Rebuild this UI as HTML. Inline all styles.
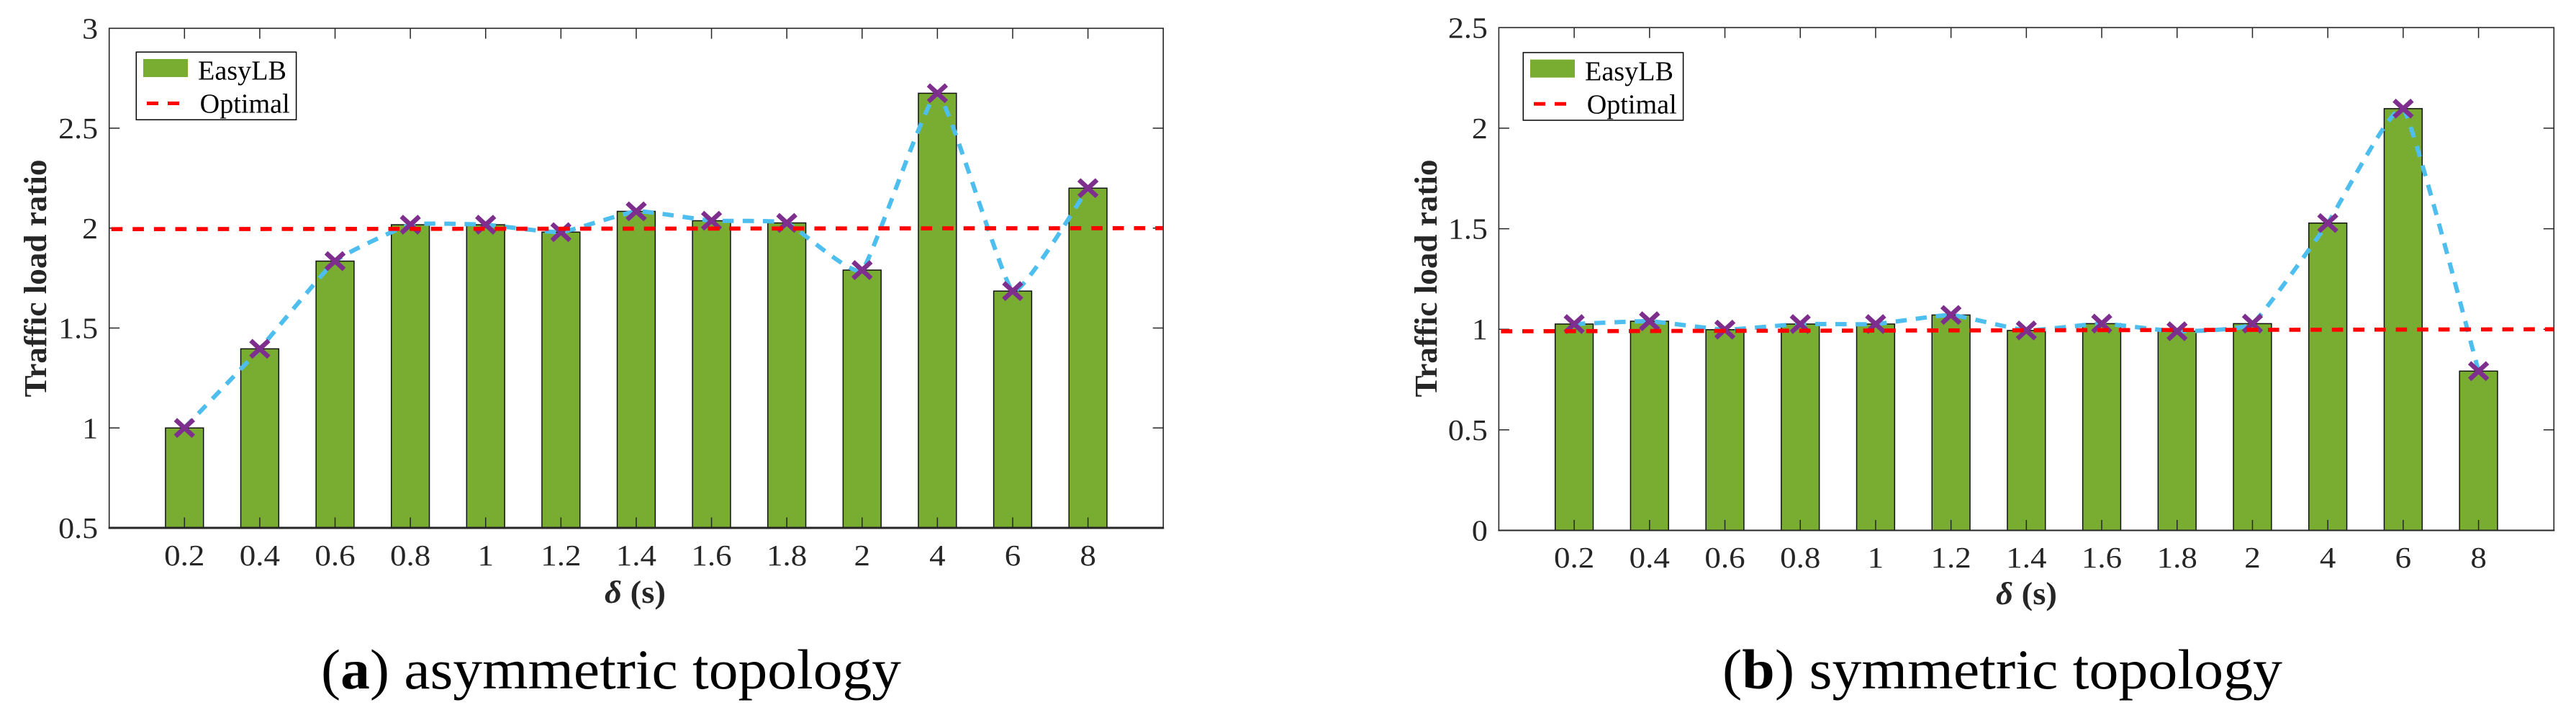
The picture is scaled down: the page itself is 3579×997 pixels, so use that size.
<!DOCTYPE html>
<html lang="en">
<head>
<meta charset="utf-8">
<title>Traffic load ratio charts</title>
<style>
html,body{margin:0;padding:0;background:#fff;}
svg{display:block;font-family:"Liberation Serif",serif;}
</style>
</head>
<body>
<svg id="figure" xmlns="http://www.w3.org/2000/svg" width="3579" height="997" viewBox="0 0 3579 997">
<rect width="3579" height="997" fill="#fff"/>
</svg>
<script>
const categories = ["0.2","0.4","0.6","0.8","1","1.2","1.4","1.6","1.8","2","4","6","8"];
const valuesA = [1.0,1.396,1.835,2.017,2.017,1.98,2.084,2.037,2.026,1.79,2.675,1.685,2.2];
const valuesB = [1.026,1.04,0.998,1.026,1.026,1.071,0.994,1.028,0.99,1.028,1.528,2.097,0.792];
const optimalA = [1.995,2.0];
const optimalB = [0.99,1.0];
const yTicksA = [0.5,1,1.5,2,2.5,3];
const yTicksB = [0,0.5,1,1.5,2,2.5];

const NS = "http://www.w3.org/2000/svg";
const root = document.getElementById("figure");
const INK = "#262626";
const BAR = "#79AD31";
const BLUE = "#4DBEEE";
const PURPLE = "#7E2F8E";
const RED = "#FF0000";

function mk(tag, attrs, parent) {
  const el = document.createElementNS(NS, tag);
  for (const k in attrs) el.setAttribute(k, attrs[k]);
  (parent || root).appendChild(el);
  return el;
}

function smoothPath(p) {
  const K = 16;
  let d = "M" + p[0][0] + " " + p[0][1];
  for (let i = 0; i < p.length - 1; i++) {
    const a = p[Math.max(i - 1, 0)], b = p[i], c = p[i + 1], e = p[Math.min(i + 2, p.length - 1)];
    const c1x = b[0] + (c[0] - a[0]) / K, c1y = b[1] + (c[1] - a[1]) / K;
    const c2x = c[0] - (e[0] - b[0]) / K, c2y = c[1] - (e[1] - b[1]) / K;
    d += "C" + c1x + " " + c1y + " " + c2x + " " + c2y + " " + c[0] + " " + c[1];
  }
  return d;
}

function labelWidth(s, size) {
  let w = 0;
  for (const ch of s) w += ch === "." ? 0.25 : 0.5;
  return w * size;
}

function drawChart(cfg) {
  const g = mk("g", {});
  
  

  const xScale = v => cfg.left + (cfg.right - cfg.left) * v / 14;
  const yScale = v => cfg.bottom - (cfg.bottom - cfg.top) * (v - cfg.yMin) / (cfg.yMax - cfg.yMin);

  cfg.values.forEach((v, i) => {
    const cx = xScale(i + 1);
    const bar = mk("rect", {x: cx - 26.4, y: yScale(v), width: 52.8, height: cfg.bottom - yScale(v), fill: BAR, stroke: "#111", "stroke-width": 1.5}, g);
    
    
  });

  const pts = cfg.values.map((v, i) => [xScale(i + 1), yScale(v)]);
  const trend = mk("path", {d: smoothPath(pts), fill: "none", stroke: BLUE, "stroke-width": 6, "stroke-dasharray": "15.5 12.5"}, g);
  
  

  pts.forEach((p, i) => {
    const m = mk("path", {d: "M" + (p[0] - 12.5) + " " + (p[1] - 11.5) + "L" + (p[0] + 12.5) + " " + (p[1] + 11.5) + "M" + (p[0] - 12.5) + " " + (p[1] + 11.5) + "L" + (p[0] + 12.5) + " " + (p[1] - 11.5), fill: "none", stroke: PURPLE, "stroke-width": 6.5}, g);
    
    
  });

  // axes frame
  const frame = mk("path", {d: "M" + cfg.left + " " + cfg.bottom + "V" + cfg.top + "H" + cfg.right + "V" + cfg.bottom, fill: "none", stroke: INK, "stroke-width": 1.6}, g);
  
  
  const base = mk("line", {x1: cfg.left - 1, x2: cfg.right + 1, y1: cfg.bottom, y2: cfg.bottom, stroke: INK, "stroke-width": cfg.baseWidth}, g);
  
  

  categories.forEach((c, i) => {
    const x = xScale(i + 1);
    const t = mk("path", {d: "M" + x + " " + cfg.top + "v14.5M" + x + " " + cfg.bottom + "v-14.5", stroke: INK, "stroke-width": 1.5, fill: "none"}, g);
    
    
    const l = mk("text", {x: x, y: cfg.xTickBase, "text-anchor": "middle", "font-size": 41, fill: INK, textLength: labelWidth(c, 45), lengthAdjust: "spacingAndGlyphs"}, g);
    l.textContent = c;
    
    
  });

  cfg.yTicks.forEach(v => {
    const y = yScale(v);
    const t = mk("path", {d: "M" + cfg.left + " " + y + "h14.5M" + cfg.right + " " + y + "h-14.5", stroke: INK, "stroke-width": 1.5, fill: "none"}, g);
    
    
    const l = mk("text", {x: cfg.left - 15.5, y: y + 14, "text-anchor": "end", "font-size": 41, fill: INK, textLength: labelWidth(String(v), 44), lengthAdjust: "spacingAndGlyphs"}, g);
    l.textContent = String(v);
    
    
  });

  const opt = mk("line", {x1: cfg.left + 3, x2: cfg.right, y1: yScale(cfg.optimal[0]), y2: yScale(cfg.optimal[1]), stroke: RED, "stroke-width": 5.7, "stroke-dasharray": "15.6 14"}, g);
  
  

  // axis titles
  const yt = mk("text", {transform: "translate(" + cfg.yTitleX + " 551.5) rotate(-90)", "font-size": 44.5, "font-weight": "bold", fill: INK, textLength: 330, lengthAdjust: "spacingAndGlyphs"}, g);
  yt.textContent = "Traffic load ratio";
  
  

  const xt = mk("text", {x: cfg.xTitleX, y: cfg.xTitleBase, "font-size": 44, "font-weight": "bold", fill: INK, textLength: 85, lengthAdjust: "spacingAndGlyphs"}, g);
  const delta = mk("tspan", {"font-style": "italic"}, xt);
  delta.textContent = "δ";
  
  
  const unit = mk("tspan", {}, xt);
  unit.textContent = " (s)";
  
  
  
  

  // legend
  const L = cfg.legend;
  const lg = mk("g", {}, g);
  
  
  const box = mk("rect", {x: L.x, y: L.y, width: 222.3, height: 94, fill: "#fff", stroke: "#000", "stroke-width": 1.5}, lg);
  
  
  const sw = mk("rect", {x: L.x + 9.7, y: L.y + 9.7, width: 62, height: 25, fill: BAR}, lg);
  
  
  const dash = mk("line", {x1: L.x + 14.7, x2: L.x + 60, y1: L.y + 71.2, y2: L.y + 71.2, stroke: RED, "stroke-width": 5, "stroke-dasharray": "16 13"}, lg);
  
  
  const t1 = mk("text", {x: L.x + 85.7, y: L.y + 38.4, "font-size": 38, fill: "#000", textLength: 123, lengthAdjust: "spacingAndGlyphs"}, lg);
  t1.textContent = "EasyLB";
  
  
  const t2 = mk("text", {x: L.x + 88.4, y: L.y + 84.4, "font-size": 38, fill: "#000", textLength: 125, lengthAdjust: "spacingAndGlyphs"}, lg);
  t2.textContent = "Optimal";
  
  

  // caption
  const cap = mk("text", {x: cfg.capX, y: 956, "font-size": 78, fill: "#000", textLength: cfg.capW, lengthAdjust: "spacingAndGlyphs"}, g);
  const o = mk("tspan", {}, cap);
  o.textContent = "(";
  const letter = mk("tspan", {"font-weight": "bold"}, cap);
  letter.textContent = cfg.capLetter;
  
  
  const rest = mk("tspan", {}, cap);
  rest.textContent = ") " + cfg.capText;
  
  
}

drawChart({name: "chart-asymmetric", values: valuesA, optimal: optimalA, yTicks: yTicksA, yMin: 0.5, yMax: 3,
  left: 151.7, right: 1616.2, top: 39.3, bottom: 733, baseWidth: 3, xTickBase: 785, yTitleX: 64, xTitleX: 840, xTitleBase: 837,
  legend: {x: 189.3, y: 72.3}, capX: 446, capW: 806, capLetter: "a", capText: "asymmetric topology"});
drawChart({name: "chart-symmetric", values: valuesB, optimal: optimalB, yTicks: yTicksB, yMin: 0, yMax: 2.5,
  left: 2082.4, right: 3548.3, top: 38.3, bottom: 736.5, baseWidth: 2, xTickBase: 788, yTitleX: 1996, xTitleX: 2773, xTitleBase: 839,
  legend: {x: 2116.3, y: 73}, capX: 2393, capW: 778, capLetter: "b", capText: "symmetric topology"});
</script>
</body>
</html>
